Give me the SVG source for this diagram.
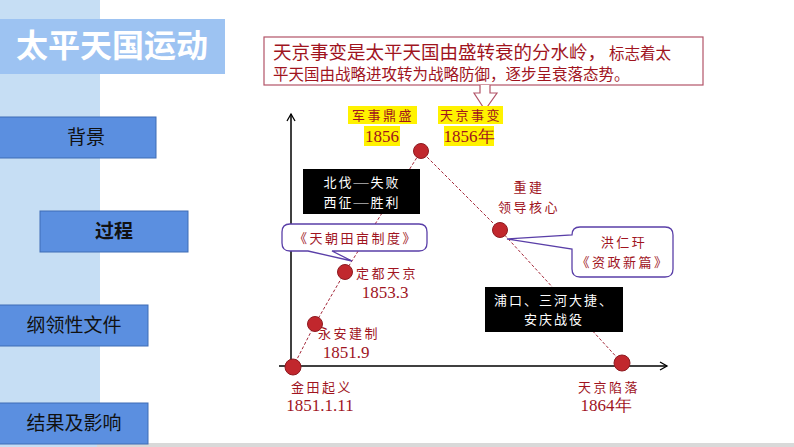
<svg xmlns="http://www.w3.org/2000/svg" width="794" height="447" viewBox="0 0 794 447">
<defs>
<style>
.btn{fill:#5B8FE0;stroke:#3F6DB5;stroke-width:1}
.btxt{font-family:"Noto Sans CJK SC",sans-serif;font-size:19px;fill:#111;text-anchor:middle}
.dot{fill:#C1272D;stroke:#8E1A20;stroke-width:1}
.dash{stroke:#A4283A;stroke-width:1;stroke-dasharray:3 2;fill:none}
.lbl{font-family:"Noto Sans CJK SC",sans-serif;font-size:13px;fill:#A0141E;text-anchor:middle;letter-spacing:2.5px}
.num{font-family:"Liberation Serif",serif;font-size:17px;fill:#A0141E;text-anchor:middle}
.wt{font-family:"Noto Sans CJK SC",sans-serif;font-size:13px;fill:#fff;text-anchor:middle;letter-spacing:2px}
.em{font-family:"Liberation Serif",serif;font-size:15px}
.hl{fill:#FFF200}
.call{fill:#fff;stroke:#5A3FA8;stroke-width:1.3}
</style>
<marker id="arr" markerWidth="10" markerHeight="10" refX="8" refY="5" orient="auto" markerUnits="userSpaceOnUse">
<path d="M1,1 L8,5 L1,9" fill="none" stroke="#000" stroke-width="1.3"/>
</marker>
</defs>
<rect width="794" height="447" fill="#fff"/>
<rect x="0" y="0" width="100" height="447" fill="#C6DEF4"/>
<rect x="97" y="443" width="697" height="4" fill="#D9D9D9"/>
<g id="title">
<rect x="0" y="19" width="225" height="55" fill="#9DC3F2"/>
<text x="16" y="57" font-family="'Noto Sans CJK SC',sans-serif" font-size="32" font-weight="bold" fill="#fff">太平天国运动</text>
</g>
<g id="btn-bg"><rect class="btn" x="-1" y="117" width="157" height="41"/><text class="btxt" x="86" y="144">背景</text></g>
<g id="btn-proc"><rect class="btn" x="40" y="211" width="148" height="41"/><text class="btxt" x="114" y="238" font-weight="bold">过程</text></g>
<g id="btn-doc"><rect class="btn" x="-1" y="305" width="149" height="41"/><text class="btxt" x="74" y="332">纲领性文件</text></g>
<g id="btn-res"><rect class="btn" x="-1" y="403" width="149" height="41"/><text class="btxt" x="74" y="430">结果及影响</text></g>

<g id="connectors">
<line x1="291" y1="370" x2="291" y2="114" stroke="#000" stroke-width="1.5" marker-end="url(#arr)"/>
<line x1="279" y1="366" x2="667" y2="366" stroke="#000" stroke-width="1.5" marker-end="url(#arr)"/>
<polyline class="dash" points="293,367 315,324 345,272 421,151 500,230 622,363"/>
</g>

<g id="callout-top">
<rect x="264" y="37" width="439" height="48" fill="#fff" stroke="#B25468" stroke-width="1.2"/>
<path d="M480,85 L480,93 L474,93 L485,110 L497,93 L490,93 L490,85" fill="#fff" stroke="#B25468" stroke-width="1.2"/>
<text x="273" y="59" font-family="'Noto Sans CJK SC',sans-serif" font-size="18.5" fill="#A0141E">天京事变是太平天国由盛转衰的分水岭，<tspan font-size="15.5" dx="3">标志着太</tspan></text>
<text x="273" y="80" font-family="'Noto Sans CJK SC',sans-serif" font-size="15.5" fill="#A0141E">平天国由战略进攻转为战略防御，逐步呈衰落态势。</text>
</g>

<g id="n-jintian"><circle class="dot" cx="293" cy="367" r="8"/><text class="lbl" x="322" y="392">金田起义</text><text class="num" x="320" y="411">1851.1.11</text></g>
<g id="n-yongan"><circle class="dot" cx="315" cy="324" r="7.5"/><text class="lbl" x="349" y="338">永安建制</text><text class="num" x="346" y="358">1851.9</text></g>
<g id="n-dingdu"><circle class="dot" cx="345" cy="272" r="7.5"/><text class="lbl" x="387" y="278">定都天京</text><text class="num" x="385" y="298">1853.3</text></g>
<g id="n-peak">
<circle class="dot" cx="421" cy="151" r="7.5"/>
<rect class="hl" x="348" y="106" width="69" height="18"/>
<text class="lbl" x="383" y="120" letter-spacing="4">军事鼎盛</text>
<rect class="hl" x="364" y="126" width="36" height="20"/>
<text class="num" x="382" y="142">1856</text>
<rect class="hl" x="438" y="106" width="65" height="18"/>
<text class="lbl" x="471" y="120" letter-spacing="4">天京事变</text>
<rect class="hl" x="444" y="126" width="50" height="20"/>
<text class="num" x="469" y="142">1856年</text>
</g>
<g id="n-rebuild"><circle class="dot" cx="500" cy="230" r="7.5"/><text class="lbl" x="529" y="192" letter-spacing="5">重建</text><text class="lbl" x="529" y="212" letter-spacing="3">领导核心</text></g>
<g id="n-fall"><circle class="dot" cx="622" cy="363" r="8"/><text class="lbl" x="609" y="392">天京陷落</text><text class="num" x="606" y="411">1864年</text></g>

<g id="box-north"><rect x="303" y="169" width="117" height="45" fill="#000"/><text class="wt" x="362" y="187">北伐<tspan class="em">—</tspan>失败</text><text class="wt" x="362" y="207">西征<tspan class="em">—</tspan>胜利</text></g>
<g id="box-battle"><rect x="485" y="287" width="138" height="45" fill="#000"/><text class="wt" x="554" y="305">浦口、三河大捷、</text><text class="wt" x="554" y="324">安庆战役</text></g>

<g id="callout-tianchao">
<path class="call" d="M290,224 H419 Q427,224 427,232 V243 Q427,251 419,251 H332 L352,261 L308,251 H290 Q282,251 282,243 V232 Q282,224 290,224 Z"/>
<text class="lbl" x="356" y="243" font-size="14" letter-spacing="3">《天朝田亩制度》</text>
</g>
<g id="callout-hong">
<path class="call" d="M580,227 H665 Q673,227 673,235 V269 Q673,277 665,277 H580 Q572,277 572,269 V249 L507,239 L572,235 Q572,227 580,227 Z"/>
<text class="lbl" x="624" y="247" letter-spacing="4">洪仁玕</text>
<text class="lbl" x="623" y="267" font-size="14" letter-spacing="2">《资政新篇》</text>
</g>
</svg>
